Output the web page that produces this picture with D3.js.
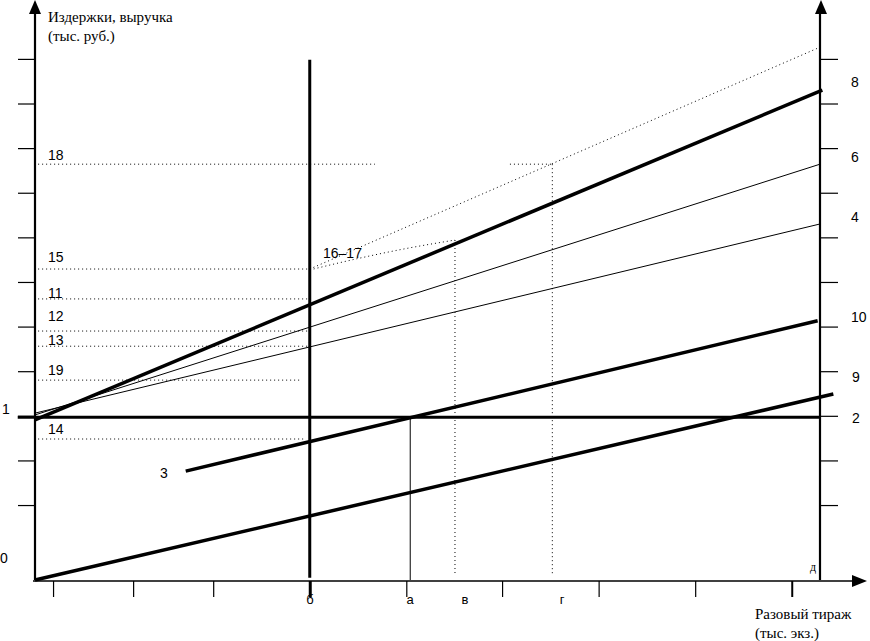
<!DOCTYPE html>
<html>
<head>
<meta charset="utf-8">
<script src="https://cdn.jsdelivr.net/npm/d3@7"></script>
<style>
  body { margin: 0; background: #fff; }
  svg { display: block; }
</style>
</head>
<body>
<div id="chart"></div>
<script>
// chart size
const width = 870, height = 641;

// axis ticks (x: тыс. экз., y: тыс. руб., arbitrary units)
const xTicks = [2.3, 12.5, 22.7, 35.0, 47.3, 59.5, 71.8, 84.1, 96.4];
const yTicks = [1.68, 2.68, 3.68, 4.68, 5.68, 6.68, 7.68, 8.68, 9.68, 10.68, 11.68];

// key volumes on the x axis
const pointNames = ["б", "а", "в", "г"];
const pointX = [35.0, 47.8, 53.5, 65.9];

// lines
const line0 = [[0, 0], [101.7, 4.17]];          // выручка
const line2 = [[-2.2, 3.65], [100, 3.65]];      // постоянные издержки
const line3 = [[19.2, 2.44], [99.7, 5.81]];
const line8 = [[0, 3.59], [100.3, 10.98]];
const line6 = [[0, 3.70], [100, 9.32]];
const line4 = [[0, 3.74], [100, 7.98]];
const dottedUpper = [[35.0, 6.97], [99.7, 11.92]];
const dottedLower = [[35.0, 6.95], [41.0, 7.20], [47.0, 7.42], [53.5, 7.62]];

// dotted levels on the left: label, value, right end
const levelNames = ["18", "15", "11", "12", "13", "19", "14"];
const levelY = [9.32, 6.97, 6.30, 5.58, 5.24, 4.48, 3.16];
const levelEnd = [43.3, 35.0, 35.0, 35.0, 35.0, 34.0, 34.5];

const svg = d3.select("#chart").append("svg")
  .attr("width", width).attr("height", height);

const x = d3.scaleLinear().domain([0, 100]).range([35, 820]);
const y = d3.scaleLinear().domain([0, 13]).range([580, 0]);

const sans = "'Liberation Sans', Arial, sans-serif";
const serif = "'Liberation Serif', 'Times New Roman', serif";

const line = d3.line().x(d => x(d[0])).y(d => y(d[1]));

function path(data, w, dash, curve) {
  const l = curve ? d3.line().x(d => x(d[0])).y(d => y(d[1])).curve(curve) : line;
  svg.append("path")
    .attr("d", l(data))
    .attr("fill", "none")
    .attr("stroke", "#000")
    .attr("stroke-width", w)
    .attr("stroke-dasharray", dash || null);
}

// left axis
const leftAxis = d3.axisLeft(y).tickValues(yTicks).tickSize(17).tickFormat("");
const gl = svg.append("g").attr("transform", `translate(${x(0)},0)`).call(leftAxis);
gl.select(".domain").remove();
gl.selectAll("line").attr("stroke-width", 1.2);

// right axis
const rightAxis = d3.axisRight(y).tickValues(yTicks).tickSize(18).tickFormat("");
const gr = svg.append("g").attr("transform", `translate(${x(100)},0)`).call(rightAxis);
gr.select(".domain").remove();
gr.selectAll("line").attr("stroke-width", 1.2);

// bottom axis
const bottomAxis = d3.axisBottom(x).tickValues(xTicks).tickSize(16).tickFormat("");
const gb = svg.append("g").attr("transform", `translate(0,${y(0) + 1})`).call(bottomAxis);
gb.select(".domain").remove();
gb.selectAll("line").attr("stroke-width", (d, i) => i === 3 ? 3 : (i === 8 ? 2 : 1.2));

// axis lines with arrows
svg.append("line").attr("x1", x(0)).attr("x2", x(0)).attr("y1", y(0)).attr("y2", 10)
  .attr("stroke", "#000").attr("stroke-width", 2.2);
svg.append("line").attr("x1", x(100)).attr("x2", x(100)).attr("y1", y(0)).attr("y2", 10)
  .attr("stroke", "#000").attr("stroke-width", 2.2);
svg.append("line").attr("x1", x(0) - 2).attr("x2", 856).attr("y1", y(0) + 1).attr("y2", y(0) + 1)
  .attr("stroke", "#000").attr("stroke-width", 1.5);

function arrowUp(cx) {
  svg.append("path").attr("d", `M${cx},0 L${cx - 6},14 L${cx + 6},14 Z`).attr("fill", "#000");
}
arrowUp(x(0));
arrowUp(x(100) + 1);
svg.append("path").attr("d", `M867,${y(0) + 1} L852,${y(0) - 5} L852,${y(0) + 7} Z`).attr("fill", "#000");

// dotted helper lines
levelY.forEach((v, i) => {
  path([[0.4, v], [levelEnd[i], v]], 1, "1,3");
});
path([[60.5, 9.32], [pointX[3], 9.32]], 1, "1,3");
path([[pointX[2], dottedLower[3][1]], [pointX[2], 0.1]], 1, "1,3");
path([[pointX[3], 9.32], [pointX[3], 0.1]], 1, "1,3");
path(dottedUpper, 1, "1,3");
path(dottedLower, 1, "1,3", d3.curveMonotoneX);

// vertical at б and а
path([[pointX[0], 11.66], [pointX[0], 0.05]], 3);
path([[pointX[1], line2[0][1]], [pointX[1], 0]], 1);

// main lines
path(line6, 1);
path(line4, 1);
path(line8, 3.5);
path(line3, 3.5);
path(line0, 3.5);
path(line2, 3);

// labels
function label(t, px, py, size, font, anchor) {
  svg.append("text").attr("x", px).attr("y", py)
    .attr("font-family", font || sans).attr("font-size", size || 14)
    .attr("text-anchor", anchor || "start")
    .text(t);
}

levelNames.forEach((t, i) => {
  const yy = [160, 262, 298, 321, 345, 375, 434][i];
  label(t, 48, yy);
});
label("16–17", 323, 258);
label("1", 2, 414);
label("0", 0, 563);
label("3", 160, 478);
label("8", 851, 87);
label("6", 851, 162);
label("4", 851, 222);
label("10", 851, 322);
label("9", 852, 382);
label("2", 852, 423);

pointNames.forEach((t, i) => {
  const px = [310, 410, 465, 562][i];
  label(t, px, 604, 13, sans, "middle");
});
label("д", 813, 571, 12, serif, "middle");

label("Издержки, выручка", 48, 22, 15, serif);
label("(тыс. руб.)", 48, 41, 15, serif);
label("Разовый тираж", 755, 619, 15, serif);
label("(тыс. экз.)", 755, 638, 15, serif);
</script>
</body>
</html>
